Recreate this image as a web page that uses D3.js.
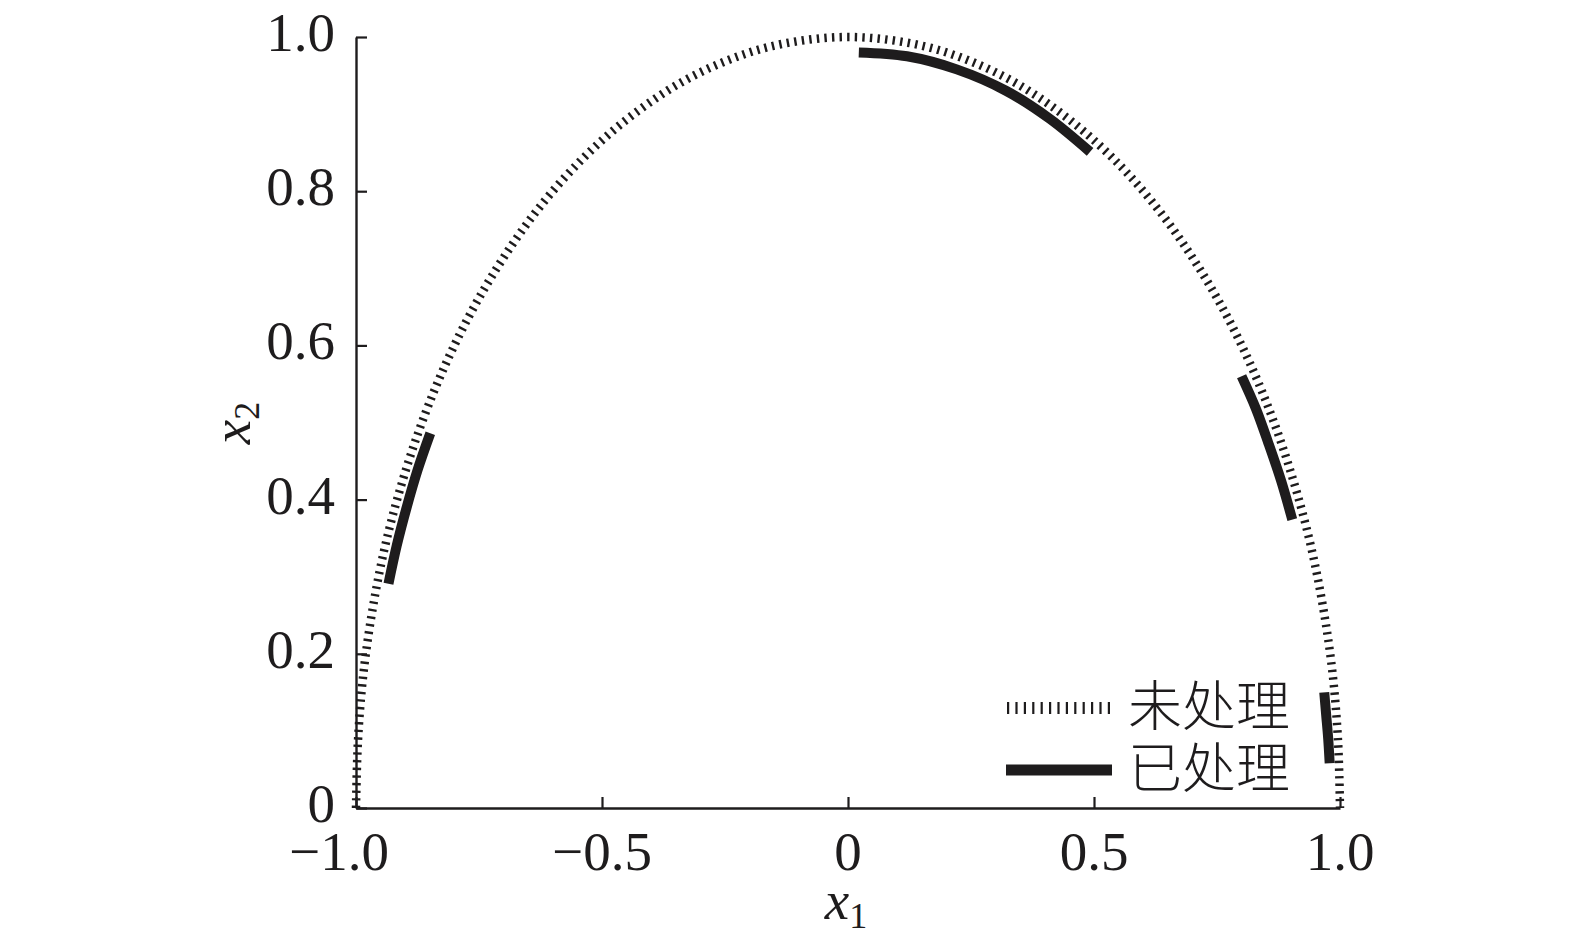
<!DOCTYPE html>
<html>
<head>
<meta charset="utf-8">
<script src="https://cdn.jsdelivr.net/npm/d3@7"></script>
<style>
  html, body { margin: 0; padding: 0; background: #fff; }
  svg { display: block; }
</style>
</head>
<body>
<svg id="chart" width="1575" height="948"></svg>
<script>
// ---------------- data ----------------
const xTicks = [-1.0, -0.5, 0, 0.5, 1.0];
const xTickLabels = ["\u22121.0", "\u22120.5", "0", "0.5", "1.0"];
const yTicks = [0, 0.2, 0.4, 0.6, 0.8, 1.0];
const yTickLabels = ["0", "0.2", "0.4", "0.6", "0.8", "1.0"];
const legendLabels = ["未处理", "已处理"];

// "未处理" front: points read along the semicircle
const unprocessedX1 = [-1.000, -0.996, -0.985, -0.966, -0.940, -0.906, -0.866, -0.819, -0.766, -0.707,
  -0.643, -0.574, -0.500, -0.423, -0.342, -0.259, -0.174, -0.087, 0.000, 0.087, 0.174, 0.259,
  0.342, 0.423, 0.500, 0.574, 0.643, 0.707, 0.766, 0.819, 0.866, 0.906, 0.940, 0.966, 0.985, 0.996, 1.000];
const unprocessedX2 = [0.000, 0.087, 0.174, 0.259, 0.342, 0.423, 0.500, 0.574, 0.643, 0.707,
  0.766, 0.819, 0.866, 0.906, 0.940, 0.966, 0.985, 0.996, 1.000, 0.996, 0.985, 0.966,
  0.940, 0.906, 0.866, 0.819, 0.766, 0.707, 0.643, 0.574, 0.500, 0.423, 0.342, 0.259, 0.174, 0.087, 0.000];

// "已处理" segments
const processedLeftX1  = [-0.934, -0.917, -0.897, -0.875, -0.849];
const processedLeftX2  = [ 0.291,  0.341,  0.390,  0.438,  0.486];
const processedTopX1   = [ 0.022,  0.120,  0.221,  0.322,  0.410,  0.492];
const processedTopX2   = [ 0.980,  0.975,  0.958,  0.930,  0.894,  0.851];
const processedRightX1 = [ 0.800,  0.829,  0.854,  0.880,  0.903];
const processedRightX2 = [ 0.560,  0.518,  0.474,  0.425,  0.374];
const processedEdgeX1  = [ 0.968,  0.972,  0.976,  0.979];
const processedEdgeX2  = [ 0.150,  0.120,  0.090,  0.058];

// ---------------- chart ----------------
const svg = d3.select("#chart");
svg.append("rect").attr("width", 1575).attr("height", 948).attr("fill", "#fff");

const mLeft = 356, mRight = 1340, mTop = 37, mBottom = 808;
const x = d3.scaleLinear().domain([-1, 1]).range([mLeft, mRight]);
const y = d3.scaleLinear().domain([0, 1]).range([mBottom, mTop]);

const ink = "#1e1c1d";
const serif = "'Liberation Serif', 'Times New Roman', serif";

const line = d3.line().x(d => x(d[0])).y(d => y(d[1])).curve(d3.curveCatmullRom.alpha(0.5));

// unprocessed dotted (tick-like) front
const unprocessed = unprocessedX1.map((v, i) => [v, unprocessedX2[i]]);
svg.append("path")
  .attr("d", line(unprocessed))
  .attr("fill", "none")
  .attr("stroke", ink)
  .attr("stroke-width", 8.5)
  .attr("stroke-dasharray", "2.4,5.2");

// processed segments
const segs = [
  [processedLeftX1, processedLeftX2],
  [processedTopX1, processedTopX2],
  [processedRightX1, processedRightX2],
  [processedEdgeX1, processedEdgeX2]
].map(([a, b]) => a.map((v, i) => [v, b[i]]));

svg.selectAll("path.proc").data(segs).enter().append("path")
  .attr("class", "proc")
  .attr("d", d => line(d))
  .attr("fill", "none")
  .attr("stroke", ink)
  .attr("stroke-width", 10);

// axes
const xAxis = d3.axisBottom(x).tickValues(xTicks).tickSizeInner(-11).tickSizeOuter(0).tickFormat("");
const yAxis = d3.axisLeft(y).tickValues(yTicks).tickSizeInner(-11).tickSizeOuter(0).tickFormat("");

const gx = svg.append("g").attr("transform", `translate(0,${mBottom})`).call(xAxis);
const gy = svg.append("g").attr("transform", `translate(${mLeft},0)`).call(yAxis);
[gx, gy].forEach(g => {
  g.select(".domain").attr("stroke", ink).attr("stroke-width", 2.4);
  g.selectAll(".tick line").attr("stroke", ink).attr("stroke-width", 2.2);
});

// tick labels
svg.append("g").selectAll("text").data(xTicks).enter().append("text")
  .attr("x", (d, i) => x(d) + (i === 0 ? -17 : 0))
  .attr("y", mBottom + 62)
  .attr("text-anchor", "middle")
  .attr("font-family", serif)
  .attr("font-size", 55)
  .attr("fill", ink)
  .text((d, i) => xTickLabels[i]);

svg.append("g").selectAll("text").data(yTicks).enter().append("text")
  .attr("x", mLeft - 21)
  .attr("y", d => y(d) + 14)
  .attr("text-anchor", "end")
  .attr("font-family", serif)
  .attr("font-size", 55)
  .attr("fill", ink)
  .text((d, i) => yTickLabels[i]);

// axis titles
const xt = svg.append("text")
  .attr("x", 846).attr("y", 919)
  .attr("text-anchor", "middle")
  .attr("font-family", serif)
  .attr("font-size", 55)
  .attr("fill", ink);
xt.append("tspan").attr("font-style", "italic").text("x");
xt.append("tspan").attr("font-size", 36).attr("dy", 9).text("1");

const yt = svg.append("text")
  .attr("transform", "translate(250,423) rotate(-90)")
  .attr("text-anchor", "middle")
  .attr("font-family", serif)
  .attr("font-size", 55)
  .attr("fill", ink);
yt.append("tspan").attr("font-style", "italic").text("x");
yt.append("tspan").attr("font-size", 36).attr("dy", 9).text("2");

// legend
const lg = svg.append("g");
lg.append("line")
  .attr("x1", 1007).attr("x2", 1111).attr("y1", 708).attr("y2", 708)
  .attr("stroke", ink).attr("stroke-width", 12).attr("stroke-dasharray", "2.2,6.2");
lg.append("line")
  .attr("x1", 1006).attr("x2", 1112).attr("y1", 770).attr("y2", 770)
  .attr("stroke", ink).attr("stroke-width", 11);
lg.selectAll("text").data(legendLabels).enter().append("text")
  .attr("x", 1128)
  .attr("y", (d, i) => 726 + i * 62)
  .attr("font-family", "'Noto Sans CJK SC', sans-serif")
  .attr("font-weight", 300)
  .attr("font-size", 54)
  .attr("fill", ink)
  .text(d => d);
</script>
</body>
</html>
